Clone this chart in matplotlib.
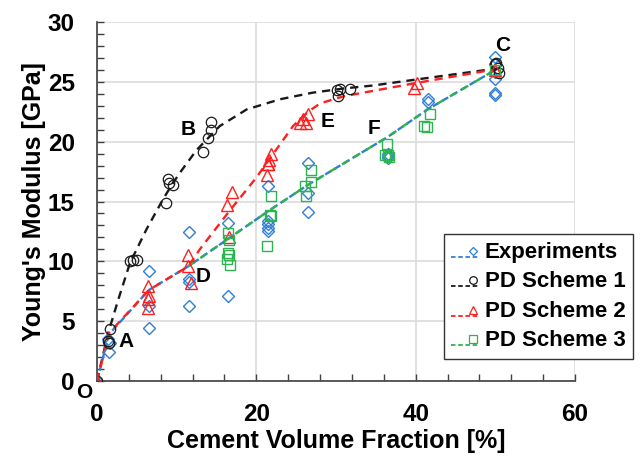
import matplotlib
matplotlib.use("Agg")
import matplotlib.pyplot as plt
from matplotlib.lines import Line2D
from matplotlib.legend_handler import HandlerBase
from matplotlib.ticker import MultipleLocator

plt.rcParams['font.family'] = ['Liberation Sans', 'DejaVu Sans']
plt.rcParams['font.weight'] = 'bold'

# ---------------- data ----------------
exp_x = [0, 1.5, 1.6, 1.4, 6.5, 6.5, 6.5, 11.5, 11.5, 11.5, 11.5,
         16.5, 16.5, 21.5, 21.5, 21.5, 21.5, 21.5, 26.5, 26.5, 26.5,
         36.5, 36.5, 36.5, 41.5, 41.5, 50, 50, 50, 50, 50, 50]
exp_y = [0, 2.45, 3.2, 3.5, 9.16, 6.23, 4.47, 12.46, 8.55, 8.3, 6.23,
         13.2, 7.1, 16.3, 13.4, 13.1, 12.8, 12.5, 18.2, 15.7, 14.1,
         18.95, 18.8, 18.65, 23.55, 23.35, 27.1, 26.5, 25.8, 25.2, 24.1, 23.9]

pd1_x = [0, 1.5, 1.4, 1.6, 4.1, 4.55, 5.0, 8.66, 8.87, 9.1, 9.6,
         13.26, 13.9, 14.3, 14.26, 30.07, 30.3, 30.5, 31.8, 49.9, 50.3, 50.5, 50.1]
pd1_y = [0, 3.16, 3.35, 4.33, 10.0, 10.1, 10.1, 14.9, 16.9, 16.57, 16.4,
         19.17, 20.3, 20.98, 21.65, 24.3, 23.8, 24.4, 24.4, 26.5, 26.2, 25.7, 26.6]

pd2_x = [0, 6.45, 6.5, 6.4, 6.45, 11.4, 11.8, 11.45, 16.3, 17.0, 16.6,
         21.3, 21.5, 21.6, 21.8, 21.5, 25.5, 25.9, 26.5, 26.3, 39.8, 40.2, 50]
pd2_y = [0, 7.96, 7.07, 6.87, 6.09, 10.56, 8.19, 9.64, 14.75, 15.8, 12.0,
         17.2, 18.1, 18.5, 19.0, 18.1, 21.6, 21.9, 22.3, 21.6, 24.5, 24.9, 26.0]

pd3_x = [16.5, 16.6, 16.4, 16.6, 16.3, 16.7, 21.8, 21.7, 21.9, 21.4,
         26.85, 26.9, 26.1, 26.3, 36.35, 36.2, 36.5, 36.6, 41.8, 41.0, 41.4, 50]
pd3_y = [12.4, 11.8, 10.7, 10.56, 10.2, 9.72, 15.5, 13.9, 13.77, 11.26,
         17.6, 16.6, 16.3, 15.45, 19.8, 18.9, 18.85, 18.75, 22.3, 21.3, 21.2, 26.0]

exp_line_x = [0, 1.5, 6.5, 11.5, 16.5, 21.5, 26.5, 36.5, 41.5, 50]
exp_line_y = [0, 3.9, 7.6, 9.6, 11.9, 14.2, 16.4, 20.4, 22.7, 26.0]

pd1_line_x = [0, 0.7, 1.4, 2.67, 4.14, 6.2, 8.3, 9.4, 10.4, 12.5, 15.4, 18.8, 23.0, 27.1, 31.0, 34.7, 40.1, 50]
pd1_line_y = [0, 2.0, 4.0, 6.8, 9.86, 12.66, 15.2, 16.4, 17.4, 19.3, 21.3, 22.7, 23.55, 24.1, 24.45, 24.7, 25.2, 26.1]

pd2_line_x = [0, 1.5, 6.5, 11.5, 12.9, 16.5, 20.0, 21.5, 23.0, 24.6, 26.5, 28.0, 31.0, 40.0, 50]
pd2_line_y = [0, 4.0, 7.6, 9.6, 11.0, 14.1, 17.0, 18.4, 19.8, 21.3, 22.5, 23.2, 23.8, 24.9, 26.05]

pd3_line_x = [11.5, 16.5, 21.5, 26.5, 36.5, 41.5, 50]
pd3_line_y = [9.6, 11.9, 14.2, 16.4, 20.4, 22.7, 26.0]

labels = ["Experiments", "PD Scheme 1", "PD Scheme 2", "PD Scheme 3"]
point_names = ["A", "B", "C", "D", "E", "F", "O"]
point_x = [3.7, 11.4, 50.9, 13.3, 28.9, 34.8, -1.55]
point_y = [3.3, 21.0, 28.0, 8.75, 21.7, 21.1, -1.0]

BLUE = '#2f7fd8'
BLACK = '#1a1a1a'
RED = '#ff1f1f'
GREEN = '#2db34f'

fig = plt.figure(figsize=(6.44, 4.61), dpi=100)
ax = fig.add_axes([0.1506, 0.1735, 0.7422, 0.7787])

lw = 1.7
ax.plot(pd1_line_x, pd1_line_y, color=BLACK, ls=(0, (3.5, 2.5)), lw=lw, zorder=3)
ax.plot(exp_line_x, exp_line_y, color=BLUE, ls=(0, (3, 1.5)), lw=lw, zorder=3)
ax.plot(pd2_line_x, pd2_line_y, color=RED, ls=(0, (3.5, 2.5)), lw=lw, zorder=4)
ax.plot(pd3_line_x, pd3_line_y, color=GREEN, ls=(0, (3, 3)), lw=lw, zorder=4)

ms = 7.5
ax.plot(exp_x, exp_y, ls='none', marker='D', ms=ms * 0.75, mfc='none', mec=BLUE, mew=1.0, zorder=5)
ax.plot(pd1_x, pd1_y, ls='none', marker='o', ms=ms, mfc='none', mec=BLACK, mew=0.9, zorder=5)
ax.plot(pd2_x, pd2_y, ls='none', marker='^', ms=ms + 0.5, mfc='none', mec=RED, mew=1.0, zorder=5)
ax.plot(pd3_x, pd3_y, ls='none', marker='s', ms=ms, mfc='none', mec=GREEN, mew=1.0, zorder=5)

for name, px, py in zip(point_names, point_x, point_y):
    ax.text(px, py, name, fontsize=15, fontweight='bold', ha='center', va='center',
            clip_on=False, zorder=6)

ax.set_xlim(0, 60)
ax.set_ylim(0, 30)
ax.xaxis.set_major_locator(MultipleLocator(20))
ax.xaxis.set_minor_locator(MultipleLocator(4))
ax.yaxis.set_major_locator(MultipleLocator(5))
ax.yaxis.set_minor_locator(MultipleLocator(1))
ax.tick_params(which='both', direction='in', length=5, width=1, color='#404040',
               labelsize=17.5)
ax.tick_params(axis='x', which='major', pad=16)
ax.tick_params(axis='y', which='major', pad=16)
for lab in ax.get_xticklabels() + ax.get_yticklabels():
    lab.set_fontweight('bold')
ax.grid(True, which='major', color='#dcdcdc', lw=1.2, zorder=0)
ax.set_axisbelow(True)
for s in ['top', 'right']:
    ax.spines[s].set_visible(False)
for s in ['left', 'bottom']:
    ax.spines[s].set_color('#404040')
    ax.spines[s].set_linewidth(1.2)

ax.set_xlabel("Cement Volume Fraction [%]", fontsize=18, fontweight='bold', labelpad=2)
ax.set_ylabel("Young's Modulus [GPa]", fontsize=18, fontweight='bold', labelpad=1)


class RightMarker(HandlerBase):
    def __init__(self, color, ls, marker, ms):
        super().__init__()
        self.c, self.ls, self.m, self.ms = color, ls, marker, ms

    def create_artists(self, legend, orig_handle, xdescent, ydescent, width, height,
                       fontsize, trans):
        x0 = -xdescent
        x1 = -xdescent + width
        yl = -ydescent + 0.05 * height
        ym = -ydescent + 0.45 * height
        line = Line2D([x0, x1], [yl, yl], color=self.c, ls=self.ls, lw=1.3, transform=trans)
        mk = Line2D([x0 + 0.78 * width], [ym], marker=self.m, ms=self.ms, mfc='none',
                    mec=self.c, mew=0.9, ls='none', transform=trans)
        return [line, mk]


handles = [Line2D([], []) for _ in labels]
hmap = {
    handles[0]: RightMarker(BLUE, (0, (2.5, 1.5)), 'D', 4.5),
    handles[1]: RightMarker(BLACK, (0, (2.5, 1.5)), 'o', 5.5),
    handles[2]: RightMarker(RED, (0, (2.5, 1.5)), '^', 5.5),
    handles[3]: RightMarker(GREEN, (0, (2.5, 1.5)), 's', 5.5),
}
leg = fig.legend(handles, labels, handler_map=hmap, loc='upper left',
                 bbox_to_anchor=(0.689, 0.4924), bbox_transform=fig.transFigure,
                 prop={'weight': 'bold', 'size': 16},
                 frameon=True, fancybox=False, edgecolor='#333333', framealpha=1,
                 handlelength=1.25, handletextpad=0.25, labelspacing=0.38,
                 borderpad=0.35, borderaxespad=0)
leg.get_frame().set_linewidth(1.0)

fig.savefig("out.png", dpi=100)
